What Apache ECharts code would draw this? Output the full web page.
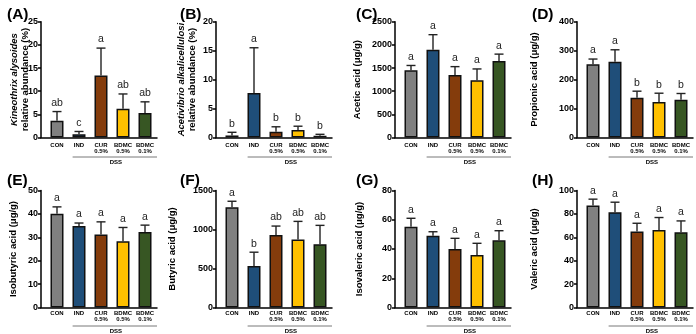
<!DOCTYPE html>
<html><head><meta charset="utf-8">
<script src="https://cdn.jsdelivr.net/npm/echarts@6/dist/echarts.min.js"></script>
<style>html,body{margin:0;padding:0;background:#fff}#c{width:696px;height:334px}</style>
</head><body><div id="c"></div>
<script>
const categories = ['CON', 'IND', 'CUR\n0.5%', 'BDMC\n0.5%', 'BDMC\n0.1%'];
const barColors = ['#808080', '#1f4e79', '#843c0c', '#ffc000', '#375623'];

const aMean = [3.6, 0.7, 13.4, 6.2, 5.3];
const aSD = [2.0, 0.6, 5.9, 3.2, 2.4];
const aLet = ['ab', 'c', 'a', 'ab', 'ab'];

const bMean = [0.35, 7.7, 1.0, 1.3, 0.3];
const bSD = [0.55, 7.8, 0.85, 0.65, 0.25];
const bLet = ['b', 'a', 'b', 'b', 'b'];

const cMean = [1450, 1895, 1350, 1235, 1650];
const cSD = [105, 325, 180, 245, 150];
const cLet = ['a', 'a', 'a', 'a', 'a'];

const dMean = [253, 262, 137, 123, 130];
const dSD = [18, 41, 23, 30, 22];
const dLet = ['a', 'a', 'b', 'b', 'b'];

const eMean = [40.1, 34.8, 31.2, 28.3, 32.3];
const eSD = [2.9, 1.3, 5.4, 5.9, 2.9];
const eLet = ['a', 'a', 'a', 'a', 'a'];

const fMean = [1285, 533, 928, 872, 812];
const fSD = [77, 176, 116, 232, 241];
const fLet = ['a', 'b', 'ab', 'ab', 'ab'];

const gMean = [55.2, 49.1, 40.0, 35.9, 45.9];
const gSD = [5.8, 2.7, 7.3, 8.0, 6.6];
const gLet = ['a', 'a', 'a', 'a', 'a'];

const hMean = [87.1, 81.4, 64.9, 66.3, 64.3];
const hSD = [5.5, 8.6, 7.1, 10.6, 9.7];
const hLet = ['a', 'a', 'a', 'a', 'a'];

const panelTags = ['(A)', '(B)', '(C)', '(D)', '(E)', '(F)', '(G)', '(H)'];
const yTitles = [
  '{i|Kineothrix alysoides}\n{n|relative abundance (%)}',
  '{i|Acetivibrio alkalicellulosi}\n{n|relative abundance (%)}',
  'Acetic acid (μg/g)', 'Propionic acid (μg/g)',
  'Isobutyric acid (μg/g)', 'Butyric acid (μg/g)',
  'Isovaleric acid (μg/g)', 'Valeric acid (μg/g)'
];
const yMax = [25, 20, 2500, 400, 50, 1500, 80, 100];
const yStep = [5, 5, 500, 100, 10, 500, 20, 20];
const groupLabel = 'DSS';

const panels = [
  [aMean, aSD, aLet], [bMean, bSD, bLet], [cMean, cSD, cLet], [dMean, dSD, dLet],
  [eMean, eSD, eLet], [fMean, fSD, fLet], [gMean, gSD, gLet], [hMean, hSD, hLet]
];

// layout
const axisXs = [41, 216, 395, 577];
const rowTop = [21.7, 190.5];
const rowH = [115.8, 117];
const nameGaps = [10, 18, 32, 37, 22, 38, 30, 37];
const tagX = [2, 175, 351, 527];
const tagY = [2, 168];
const FONT = 'Liberation Sans, Arial, sans-serif';

const grid = [], xAxis = [], yAxis = [], series = [], title = [];

panels.forEach((p, k) => {
  const [mean, sd, lets] = p;
  const row = k < 4 ? 0 : 1, col = k % 4;
  const ax = axisXs[col];
  const gi = grid.length;
  grid.push({left: ax, top: rowTop[row], width: 116, height: rowH[row]});
  grid.push({left: ax + 5, top: rowTop[row], width: 110, height: rowH[row]});
  title.push({text: panelTags[k], left: tagX[col], top: tagY[row],
    textStyle: {fontFamily: FONT, fontSize: 15.5, fontWeight: 'bold', color: '#000'}});
  // plot axes
  xAxis.push({gridIndex: gi, type: 'value', min: -0.727, max: 4.545,
    axisLine: {show: true, onZero: false, lineStyle: {color: '#000', width: 1.5}},
    axisTick: {show: false}, axisLabel: {show: false}, splitLine: {show: false}});
  yAxis.push({gridIndex: gi, type: 'value', min: 0, max: yMax[k], interval: yStep[k],
    axisLine: {show: true, onZero: false, lineStyle: {color: '#000', width: 1.5}},
    axisTick: {show: true, length: 3, lineStyle: {color: '#000', width: 1.5}},
    axisLabel: {fontFamily: FONT, fontSize: 9, fontWeight: 'bold', color: '#000', margin: 3,
      formatter: v => String(v)},
    splitLine: {show: false},
    name: yTitles[k], nameLocation: 'middle', nameGap: nameGaps[k], nameRotate: 90,
    nameMoveOverlap: k === 0 ? false : true,
    nameTextStyle: {fontFamily: FONT, fontSize: 9.5, fontWeight: 'bold', color: '#000', lineHeight: 11,
      rich: {i: {fontFamily: FONT, fontSize: 9.5, fontWeight: 'bold', fontStyle: 'italic', lineHeight: 11},
             n: {fontFamily: FONT, fontSize: 9.5, fontWeight: 'bold', lineHeight: 11}}}});
  // label axes
  xAxis.push({gridIndex: gi + 1, type: 'category', data: categories, boundaryGap: true,
    axisLine: {show: false}, axisTick: {show: false}, splitLine: {show: false},
    axisLabel: {fontFamily: FONT, fontSize: 6, fontWeight: 'bold', color: '#000', lineHeight: 6,
      margin: row === 0 ? 4.5 : 3, interval: 0}});
  yAxis.push({gridIndex: gi + 1, type: 'value', show: false, min: 0, max: 1});

  const xi = xAxis.length - 2, yi = yAxis.length - 2;
  series.push({type: 'bar', xAxisIndex: xi, yAxisIndex: yi, barWidth: 13, z: 2,
    data: mean.map((v, i) => ({value: [i, v], itemStyle: {color: barColors[i]}})),
    itemStyle: {borderColor: '#111', borderWidth: 1.5}});
  series.push({type: 'custom', xAxisIndex: xi, yAxisIndex: yi, z: 3, clip: false,
    data: mean.map((v, i) => [i, v, v + sd[i]]),
    renderItem: (params, api) => {
      const x = api.value(0);
      const p0 = api.coord([x, api.value(1)]);
      const p1 = api.coord([x, api.value(2)]);
      const st = {stroke: '#222', lineWidth: 1.4};
      return {type: 'group', children: [
        {type: 'line', shape: {x1: p0[0], y1: p0[1], x2: p1[0], y2: p1[1]}, style: st},
        {type: 'line', shape: {x1: p1[0] - 4.5, y1: p1[1], x2: p1[0] + 4.5, y2: p1[1]}, style: st},
        {type: 'text', style: {text: lets[params.dataIndex], x: p1[0], y: p1[1] - 3,
          textAlign: 'center', textVerticalAlign: 'bottom', fill: '#222', fontSize: 10.5, fontFamily: FONT}}
      ]};
    }});
  const dssOff = row === 0 ? 19.5 : 18.5;
  series.push({type: 'custom', xAxisIndex: xi, yAxisIndex: yi, z: 3, clip: false,
    data: [[0.71, 4.545, 0]],
    renderItem: (params, api) => {
      const p0 = api.coord([api.value(0), api.value(2)]);
      const p1 = api.coord([api.value(1), api.value(2)]);
      const y = p0[1] + dssOff;
      return {type: 'group', children: [
        {type: 'line', shape: {x1: p0[0], y1: y, x2: p1[0], y2: y}, style: {stroke: '#555', lineWidth: 0.8}},
        {type: 'text', style: {text: groupLabel, x: (p0[0] + p1[0]) / 2 + 1, y: y + 2.5,
          textAlign: 'center', textVerticalAlign: 'top', fill: '#000', fontSize: 6, fontWeight: 'bold', fontFamily: FONT}}
      ]};
    }});
});

const chart = echarts.init(document.getElementById('c'), null, {renderer: 'canvas'});
chart.setOption({animation: false, backgroundColor: '#fff', title, grid, xAxis, yAxis, series});
</script>
</body></html>
